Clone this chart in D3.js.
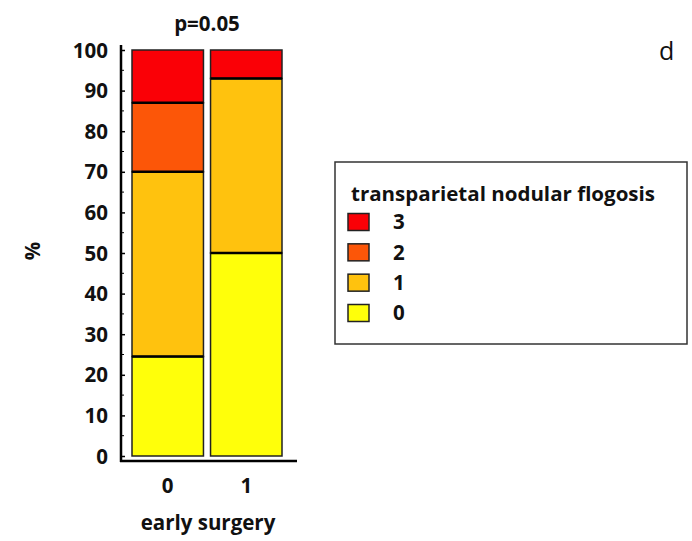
<!DOCTYPE html>
<html><head><meta charset="utf-8">
<script src="https://cdn.jsdelivr.net/npm/d3@7"></script>
<style>body{margin:0;background:#fff}svg{display:block}text{font-family:"Open Sans",Lato,sans-serif}</style>
</head><body>
<svg id="c" width="692" height="541"></svg>
<script>
const categories = ["0", "1"];
const levels = ["0", "1", "2", "3"];
const series0 = [24.5, 50];
const series1 = [45.5, 43];
const series2 = [17, 0];
const series3 = [13, 7];
const yTicks = [0,10,20,30,40,50,60,70,80,90,100];
const colors = {"0":"#ffff0a","1":"#ffc20e","2":"#fc5608","3":"#fa0006"};

const svg = d3.select("#c");
const rows = categories.map((c,i)=>({cat:c,"0":series0[i],"1":series1[i],"2":series2[i],"3":series3[i]}));
const stack = d3.stack().keys(levels)(rows);

const y = d3.scaleLinear().domain([0,100]).range([456,50]);
const x = d3.scaleBand().domain(categories).range([132,282]).paddingInner(0.09).paddingOuter(0);

// bars
const g = svg.append("g");
stack.forEach(layer=>{
  g.selectAll(null).data(layer.filter(d=>d[1]-d[0]>0)).enter().append("rect")
   .attr("x",d=>x(d.data.cat)).attr("width",x.bandwidth())
   .attr("y",d=>y(d[1])).attr("height",d=>y(d[0])-y(d[1]))
   .attr("fill",colors[layer.key]).attr("stroke","#222").attr("stroke-width",1.5);
});
// thicker boundaries
stack.forEach(layer=>{
  if(layer.key==="0") return;
  g.selectAll(null).data(layer.filter(d=>d[1]-d[0]>0 && d[0]>0)).enter().append("line")
   .attr("x1",d=>x(d.data.cat)).attr("x2",d=>x(d.data.cat)+x.bandwidth())
   .attr("y1",d=>y(d[0])).attr("y2",d=>y(d[0]))
   .attr("stroke","#000").attr("stroke-width",2.5);
});

const fs = 20.5;
// y axis
const yAxis = d3.axisLeft(y).tickValues(yTicks).tickSize(-4).tickPadding(13).tickFormat(d3.format("d"));
const ya = svg.append("g").attr("transform","translate(121,0)").call(yAxis);
ya.select(".domain").remove();
ya.selectAll(".tick line").attr("stroke","#000").attr("stroke-width",1.5);
ya.selectAll("text").attr("font-size",fs).attr("font-weight","bold").attr("fill","#111").attr("dy","0.35em");
svg.append("g").selectAll(null).data(d3.range(5,100,10)).enter().append("line")
  .attr("x1",121).attr("x2",124).attr("y1",d=>y(d)).attr("y2",d=>y(d)).attr("stroke","#000").attr("stroke-width",1);
svg.append("line").attr("x1",121).attr("x2",121).attr("y1",45).attr("y2",462).attr("stroke","#000").attr("stroke-width",2.5);
svg.append("line").attr("x1",120).attr("x2",297).attr("y1",461).attr("y2",461).attr("stroke","#000").attr("stroke-width",2.5);

// x labels
const xa = svg.append("g").attr("transform","translate(0,461)").call(d3.axisBottom(x).tickSize(0).tickPadding(17));
xa.select(".domain").remove();
xa.selectAll("text").attr("font-size",fs).attr("font-weight","bold").attr("fill","#111");

svg.append("text").attr("x",208).attr("y",530).attr("text-anchor","middle").attr("font-size",fs).attr("font-weight","bold").attr("fill","#111").text("early surgery");
svg.append("text").attr("x",207).attr("y",31).attr("text-anchor","middle").attr("font-size",fs).attr("font-weight","bold").attr("fill","#111").text("p=0.05");
svg.append("text").attr("transform","translate(40,251) rotate(-90)").attr("text-anchor","middle").attr("font-size",fs).attr("font-weight","bold").attr("fill","#111").text("%");
svg.append("text").attr("x",659).attr("y",60).attr("font-size",25).attr("fill","#111").text("d");

// legend
const lg = svg.append("g");
lg.append("rect").attr("x",335).attr("y",162).attr("width",352).attr("height",182).attr("fill","#fff").attr("stroke","#333").attr("stroke-width",1.5);
lg.append("text").attr("x",351).attr("y",201).attr("font-size",19.5).attr("font-weight","bold").attr("fill","#111").attr("textLength",304).attr("lengthAdjust","spacingAndGlyphs").text("transparietal nodular flogosis");
const legItems = levels.slice().reverse();
const ly = d3.scalePoint().domain(legItems).range([222,313]);
lg.selectAll(null).data(legItems).enter().append("rect")
  .attr("x",348).attr("y",d=>ly(d)-8.5).attr("width",21).attr("height",17)
  .attr("fill",d=>colors[d]).attr("stroke","#222").attr("stroke-width",1.5);
lg.selectAll(null).data(legItems).enter().append("text")
  .attr("x",393).attr("y",d=>ly(d)).attr("dy","0.36em").attr("font-size",fs).attr("font-weight","bold").attr("fill","#111").text(d=>d);
</script>
</body></html>
